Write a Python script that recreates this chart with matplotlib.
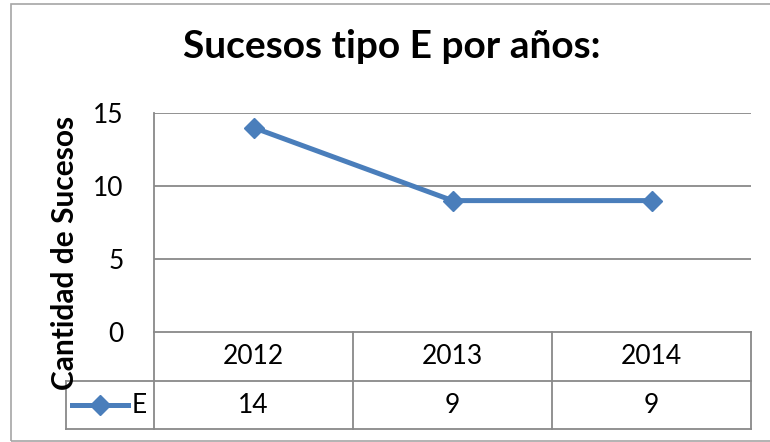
import matplotlib
matplotlib.use('Agg')
import matplotlib.pyplot as plt
from matplotlib.lines import Line2D
from matplotlib.patches import Rectangle
from matplotlib.transforms import blended_transform_factory

years = ['2012', '2013', '2014']
sucesos_e = [14, 9, 9]
series_name = 'E'
title = 'Sucesos tipo E por años:'
ylabel = 'Cantidad de Sucesos'
yticks = [0, 5, 10, 15]

W, H = 770, 442
blue = '#4A7EBB'
grid_gray = '#898989'

plt.rcParams['font.family'] = ['Lato', 'DejaVu Sans']


def fx(x):
    return x / W


def fy(y):
    return 1 - y / H


fig = plt.figure(figsize=(W / 100, H / 100), dpi=100)
fig.patch.set_facecolor('white')

# outer chart border
fig.add_artist(Rectangle((fx(11), fy(441)), fx(772) - fx(11), fy(4) - fy(441),
                         transform=fig.transFigure, fill=False,
                         edgecolor='#a6a6a6', linewidth=1.2))

ax = fig.add_axes([fx(154), fy(332), fx(751) - fx(154), fy(113) - fy(332)])
x = list(range(len(years)))
ax.plot(x, sucesos_e, color=blue, linewidth=3.6, marker='D',
        markersize=10.5, markeredgecolor=blue, clip_on=False, zorder=5)
ax.set_xlim(-0.5, len(years) - 0.5)
ax.set_ylim(0, 15)
ax.set_yticks(yticks)
ax.set_xticks([])
ax.tick_params(axis='y', length=0, pad=22, labelsize=19)
for s in ['top', 'right', 'bottom']:
    ax.spines[s].set_visible(False)
ax.spines['left'].set_color(grid_gray)
ax.spines['left'].set_linewidth(1.3)
for t in yticks[1:]:
    ax.axhline(t, color=grid_gray, linewidth=1.3, zorder=1)

# data table under the plot
tr = blended_transform_factory(ax.transData, ax.transAxes)
row1 = -0.2237
row2 = -0.443
leg_left = -0.5 - 88 / 199
right = len(years) - 0.5
lkw = dict(color=grid_gray, linewidth=1.3, transform=tr, clip_on=False)
ax.plot([-0.5, right], [0, 0], **lkw)
ax.plot([leg_left, right], [row1, row1], **lkw)
ax.plot([leg_left, right], [row2, row2], **lkw)
ax.plot([leg_left, leg_left], [row1, row2], **lkw)
for i in range(len(years) + 1):
    ax.plot([i - 0.5, i - 0.5], [0, row2], **lkw)

for i, (yr, v) in enumerate(zip(years, sucesos_e)):
    ax.text(i, row1 / 2, yr, transform=tr, ha='center', va='center', fontsize=19)
    ax.text(i, (row1 + row2) / 2, str(v), transform=tr, ha='center',
            va='center', fontsize=19)

# legend key inside the table
ym = (row1 + row2) / 2
ax.add_line(Line2D([-0.5 - 82 / 199, -0.5 - 26 / 199], [ym, ym], color=blue,
                   linewidth=3.6, transform=tr, clip_on=False))
ax.add_line(Line2D([-0.5 - 54 / 199], [ym], color=blue, marker='D',
                   markersize=10.5, transform=tr, clip_on=False))
ax.text(-0.5 - 22 / 199, ym, series_name, transform=tr, ha='left',
        va='center', fontsize=19)

fig.text(fx(392), fy(46), title, ha='center', va='center', fontsize=28,
         fontweight='bold')
fig.text(fx(65), fy(253), ylabel, rotation=90, ha='center', va='center',
         fontsize=21.5, fontweight='bold')

fig.savefig('out.png', dpi=100, facecolor='white')
